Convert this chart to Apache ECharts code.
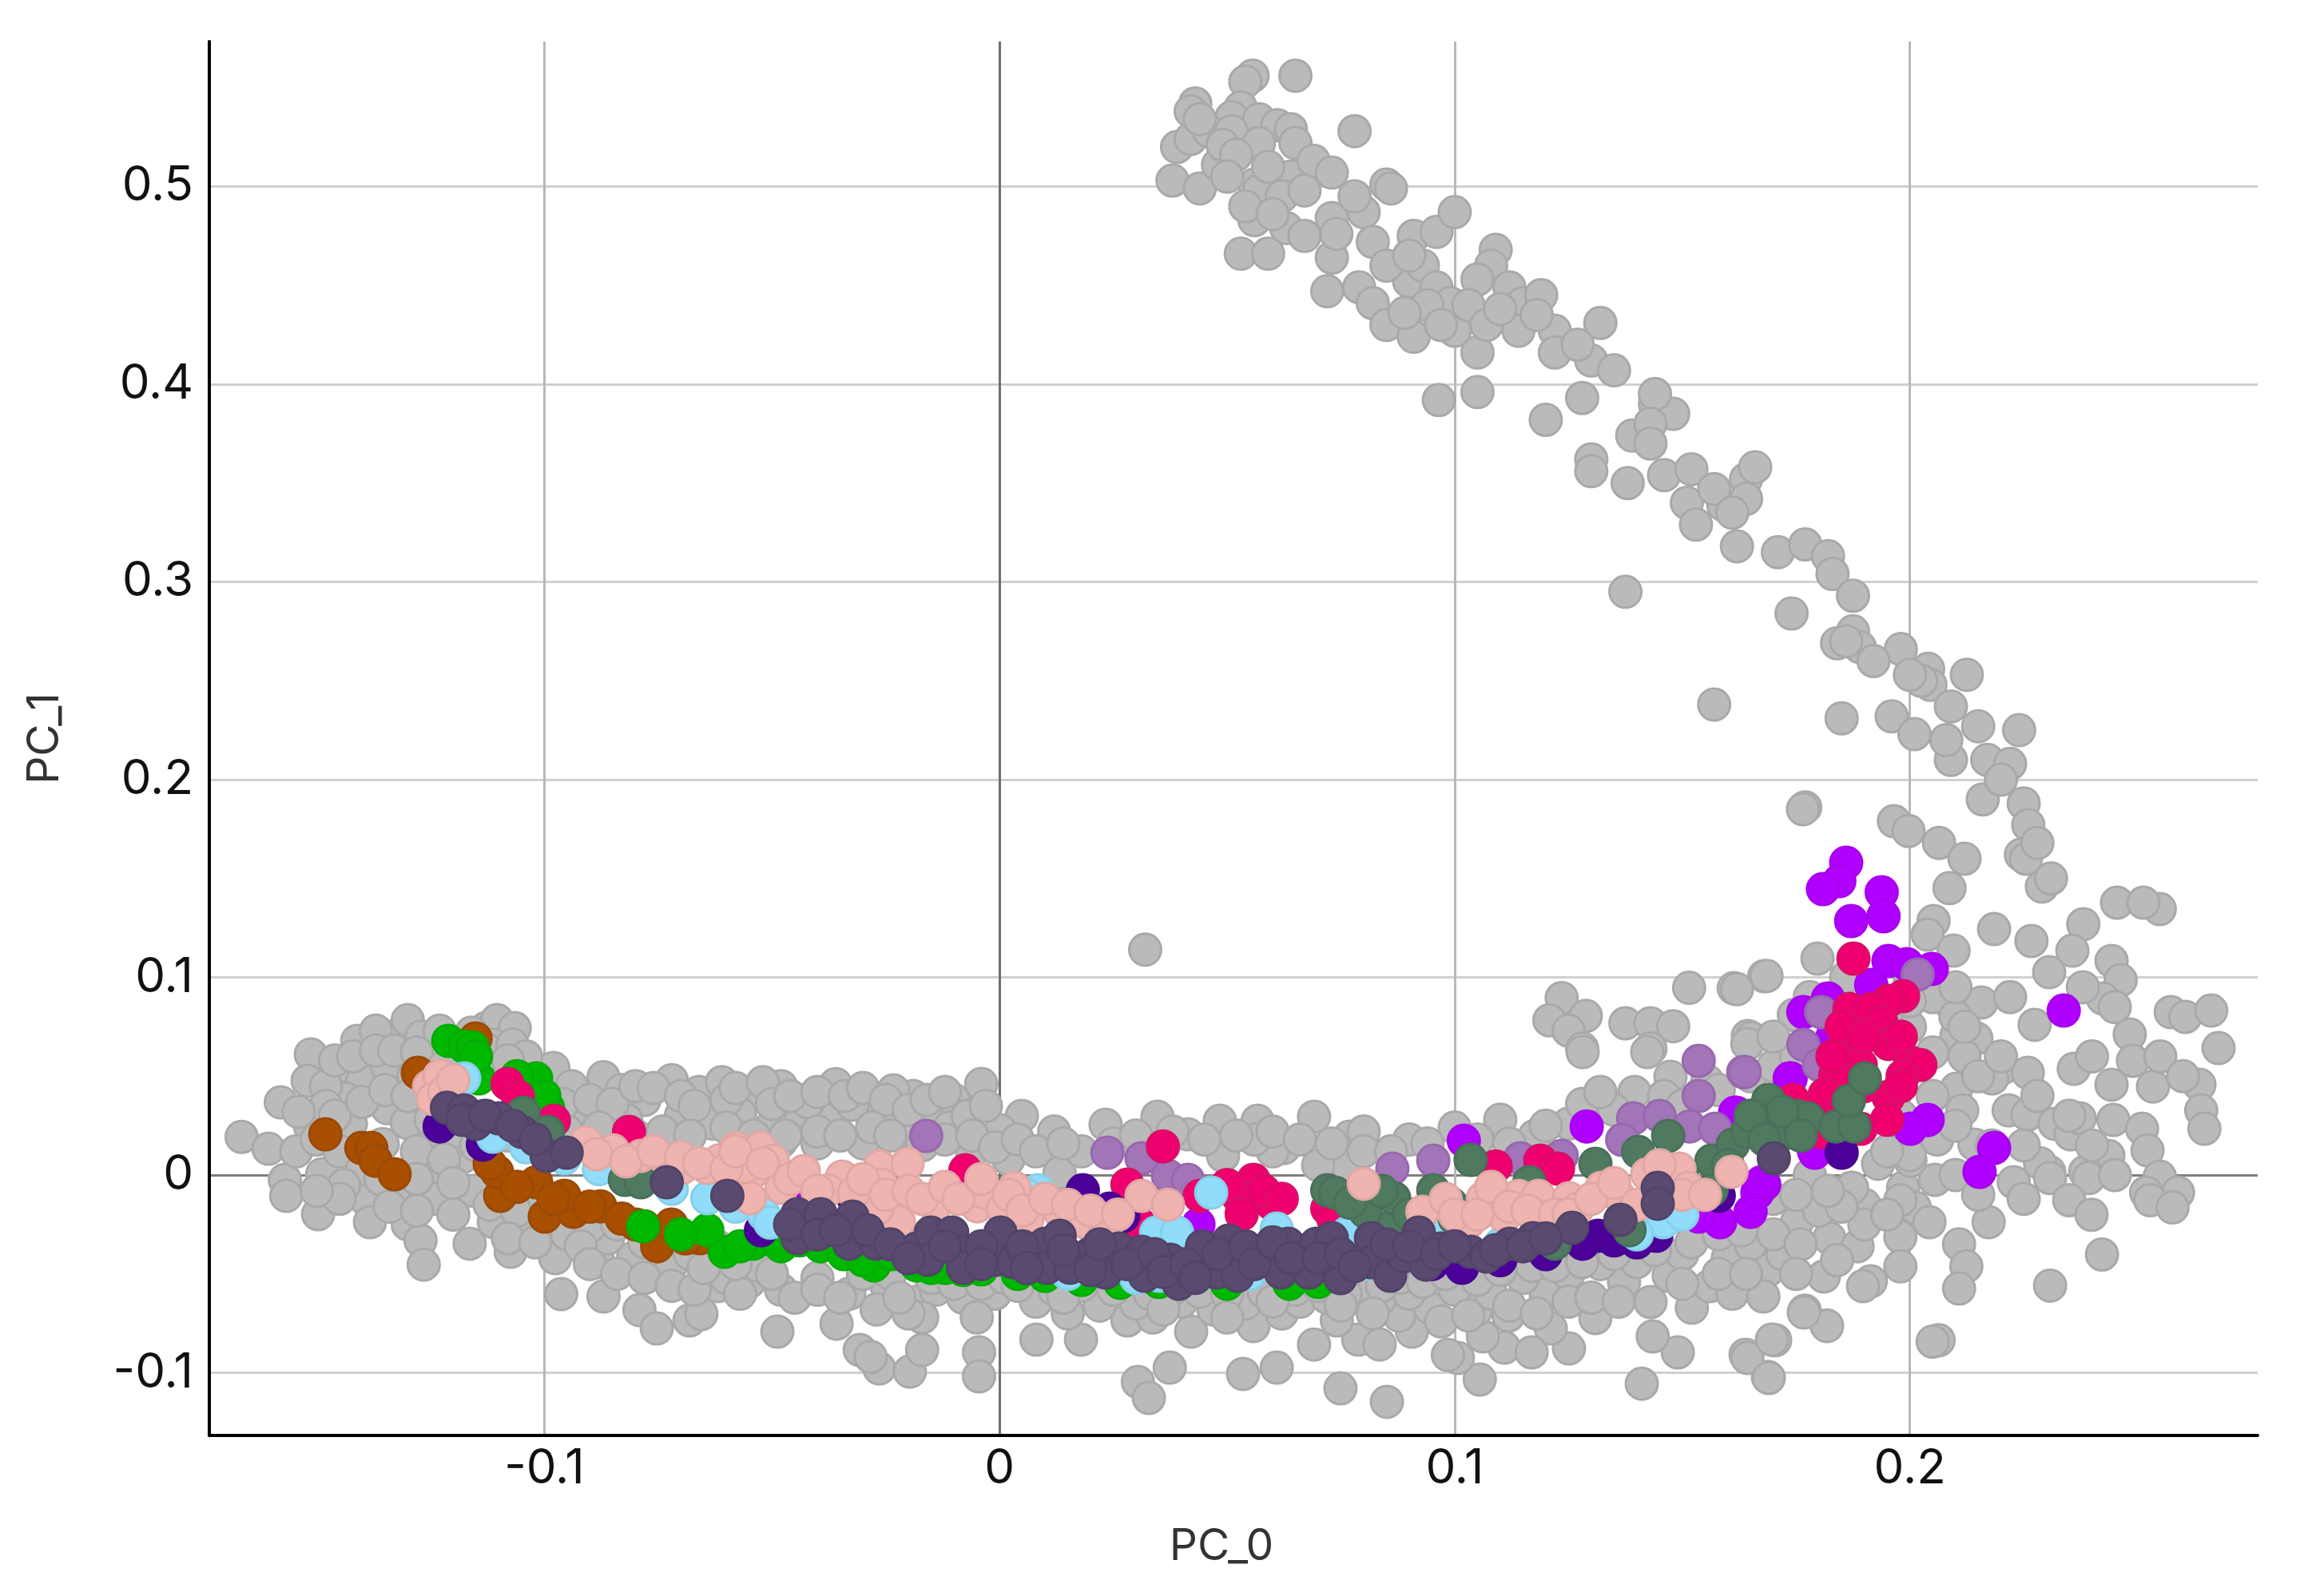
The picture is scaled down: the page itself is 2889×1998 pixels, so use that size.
<!DOCTYPE html>
<html><head><meta charset="utf-8">
<style>html,body{margin:0;padding:0;background:#fff}#c{width:2889px;height:1998px}</style>
<script src="https://cdn.jsdelivr.net/npm/echarts@6/dist/echarts.min.js"></script>
</head><body><div id="c"></div><script>
const xTicks=[-0.1,0,0.1,0.2];
const yTicks=[-0.1,0,0.1,0.2,0.3,0.4,0.5];
const grayArc=[[.0556,.556],[.054,.553],[.065,.556],[.043,.542],[.042,.538],[.053,.54],[.051,.535],[.057,.534],[.061,.531],[.064,.529],[.039,.52],[.042,.524],[.046,.528],[.051,.528],[.057,.522],[.065,.522],[.038,.503],[.044,.499],[.048,.511],[.056,.501],[.057,.498],[.064,.505],[.069,.513],[.073,.507],[.078,.528],[.056,.483],[.063,.479],[.067,.475],[.073,.484],[.053,.466],[.059,.466],[.073,.464],[.072,.447],[.08,.487],[.085,.501],[.086,.499],[.082,.472],[.079,.449],[.082,.441],[.09,.452],[.091,.475],[.096,.477],[.1,.487],[.093,.46],[.096,.449],[.085,.43],[.091,.424],[.099,.441],[.1,.427],[.105,.416],[.0965,.392],[.105,.396],[.109,.468],[.108,.46],[.105,.453],[.112,.449],[.115,.441],[.119,.445],[.114,.427],[.122,.427],[.122,.416],[.132,.431],[.13,.412],[.135,.407],[.128,.393],[.12,.382],[.144,.39],[.148,.385],[.144,.395],[.139,.374],[.143,.38],[.13,.362],[.13,.356],[.138,.35],[.146,.354],[.152,.357],[.151,.34],[.153,.329],[.159,.339],[.164,.352],[.164,.342],[.166,.358],[.162,.318],[.171,.315],[.177,.319],[.182,.313],[.183,.304],[.174,.284],[.1375,.295],[.1875,.293],[.1875,.275],[.184,.269],[.189,.267],[.198,.266],[.204,.256],[.2125,.253],[.2045,.248],[.2025,.25],[.185,.231],[.157,.238],[.196,.232],[.201,.223],[.209,.237],[.215,.227],[.224,.225],[.209,.21],[.217,.21],[.222,.208],[.216,.19],[.225,.188],[.226,.177],[.177,.186],[.1965,.179],[.1997,.174],[.2064,.168],[.2244,.162],[.2255,.16],[.229,.1459],[.2087,.1451],[.2455,.1378],[.2549,.1345],[.2513,.1378],[.2185,.1244],[.2267,.1184],[.2381,.1269],[.2357,.1135],[.2306,.1026],[.2443,.1083],[.2463,.0986],[.2424,.0893],[.1765,.185],[.032,.114],[.2052,.1285],[.2039,.1216],[.2096,.1135]];
const grayArcFill=[[.044,.534],[.049,.521],[.052,.516],[.059,.51],[.05,.505],[.062,.495],[.054,.49],[.067,.498],[.06,.486],[.078,.495],[.074,.476],[.085,.46],[.09,.465],[.094,.44],[.089,.436],[.097,.43],[.103,.44],[.107,.43],[.11,.438],[.118,.435],[.127,.42],[.143,.37],[.157,.347],[.161,.335],[.186,.27],[.192,.26],[.2,.253],[.208,.22],[.22,.2],[.228,.168],[.231,.15],[.212,.16]];
const grayRight=[[.1797,.1095],[.168,.1006],[.1613,.0945],[.2087,.0873],[.2157,.0873],[.2274,.076],[.2102,.0703],[.2146,.0691],[.1644,.0703],[.2483,.0711],[.2573,.0824],[.2605,.08],[.2662,.0832],[.2678,.0642],[.249,.0578],[.2204,.0541],[.2259,.0517],[.2181,.0489],[.236,.0537],[.2443,.0457],[.2534,.0448],[.2636,.0457],[.264,.0327],[.2647,.0234],[.2102,.0436],[.2115,.0327],[.2217,.0327],[.2258,.0305],[.2318,.0259],[.2353,.0206],[.2373,.0287],[.2447,.0279],[.251,.0234],[.2436,.0097],[.2522,.0125],[.2385,.0016],[.2306,.0016],[.2228,-.0036],[.2142,.0154],[.2549,-.0008],[.2589,-.0089],[.2519,-.0089],[.2055,-.0024],[.1985,-.0065],[.193,.0057],[.2001,.0073],[.1871,-.0065],[.2286,.006],[.2308,-.0015],[.2393,-.0015],[.235,-.0127],[.2399,-.0201],[.2528,-.0127],[.2577,-.0164],[.2422,-.0402],[.2308,-.0559],[.2173,-.0238],[.2063,-.0835],[.205,-.0842],[.2108,-.035],[.2124,-.0462],[.2108,-.0574],[.2011,-.0164],[.1979,-.0127],[.1914,-.0537],[.1817,-.076],[.1769,-.0686],[.1688,-.1021],[.1639,-.0909],[.1704,-.0835],[.1979,-.0313],[.1979,-.0462],[.2043,-.0238],[.1235,.0895],[.1208,.0783],[.1288,.0805],[.125,.073],[.128,.064],[.1375,.0768],[.143,.0768],[.148,.0753],[.1515,.0947],[.162,.094],[.1685,.1007],[.1652,.0693],[.143,.064],[.1555,.0475],[.1745,.081],[.2,.075],[.205,.062],[.195,.082],[.212,.06],[.2,.01],[.206,.018],[.19,-.015]];
const grayLeft=[[-.1665,.0193],[-.1606,.0133],[-.1579,.0368],[-.1513,.061],[-.152,.0477],[-.157,-.0024],[-.1488,.0004],[-.1567,-.0105],[-.1497,-.0198],[-.1395,-.0117],[-.1383,-.0238],[-.13,-.025],[-.1272,-.0331],[-.1265,-.0453],[-.1164,-.0347],[-.1074,-.0388],[-.0976,-.042],[-.0963,-.0602],[-.087,-.0614],[-.0791,-.0683],[-.0753,-.0776],[-.0681,-.0735],[-.0655,-.0703],[-.062,-.0562],[-.0881,-.044],[-.0805,-.042],[-.072,-.045],[-.1316,.0719],[-.1411,.0679],[-.137,.073],[-.13,.0784],[-.1128,.0743],[-.1104,.0784],[-.1065,.0743],[-.1115,.066],[-.098,.0541],[-.1074,.0557],[-.1455,.0545],[-.14,.0478],[-.1345,.0548],[-.1288,.05],[-.1437,.0387],[-.1345,.0338],[-.1302,.0265],[-.1425,.026],[-.1515,.025],[-.1545,.012],[-.1355,.0157],[-.1245,.016],[-.118,.009],[-.1232,.0003],[-.1325,-.006],[-.1236,-.012],[-.1155,-.008],[-.1111,-.0238],[-.103,-.026],[-.095,-.03],[-.086,-.032],[-.078,-.034],[-.1,.039],[-.094,.045],[-.087,.0495],[-.083,.043],[-.078,.038],[-.072,.048],[-.066,.042],[-.061,.047],[-.055,.04],[-.048,.045],[-.043,.038],[-.036,.046],[-.1,.025],[-.09,.032],[-.082,.028],[-.07,.03],[-.063,.026],[-.057,.031],[-.05,.025],[-.044,.026],[-.037,.028],[-.03,.038],[-.026,.03],[-.019,.04],[-.014,.032],[-.01,.038],[-.0233,.0428],[-.0421,.0368],[-.0323,.0356],[-.004,.0461],[.0049,.0299],[.0002,.0226],[-.02,.022],[-.011,.024],[-.03,.016],[-.04,.016],[-.048,.017],[-.006,.012],[.002,.008],[-.0307,-.0885],[-.0264,-.0978],[-.0283,-.092],[-.0197,-.0994],[-.017,-.0885],[-.0045,-.0897],[-.0045,-.1018],[-.0488,-.0792],[-.0358,-.0752],[-.055,-.054],[-.048,-.058],[-.04,-.052],[-.033,-.06],[-.025,-.055],[-.027,-.068],[-.018,-.064],[-.014,-.058],[-.008,-.062],[-.001,-.06],[-.017,-.072],[-.02,-.07],[-.005,-.072],[-.062,-.045],[-.053,-.046]];
const grayLeftFill=[[-.148,.045],[-.146,.058],[-.142,.06],[-.137,.063],[-.133,.063],[-.127,.07],[-.123,.073],[-.128,.062],[-.12,.064],[-.116,.072],[-.113,.064],[-.107,.066],[-.104,.06],[-.108,.058],[-.116,.056],[-.122,.055],[-.148,.035],[-.154,.032],[-.15,.018],[-.145,.012],[-.146,.03],[-.14,.037],[-.135,.043],[-.13,.04],[-.125,.028],[-.12,.022],[-.115,.015],[-.108,.02],[-.102,.014],[-.128,.012],[-.122,.008],[-.14,.003],[-.144,-.005],[-.136,-.002],[-.128,-.002],[-.12,-.004],[-.112,-.015],[-.106,-.018],[-.1,-.012],[-.134,-.016],[-.128,-.018],[-.12,-.02],[-.108,-.032],[-.102,-.034],[-.09,-.026],[-.092,-.036],[-.084,-.025],[-.075,-.03],[-.068,-.04],[-.062,-.036],[-.145,-.012],[-.15,-.008],[-.096,.036],[-.09,.038],[-.085,.036],[-.08,.045],[-.076,.044],[-.07,.04],[-.067,.035],[-.06,.038],[-.058,.044],[-.052,.047],[-.05,.036],[-.046,.04],[-.04,.042],[-.034,.04],[-.03,.044],[-.025,.038],[-.02,.033],[-.016,.038],[-.012,.042],[-.007,.03],[-.003,.035],[-.095,.022],[-.088,.024],[-.08,.02],[-.074,.022],[-.068,.02],[-.06,.024],[-.054,.02],[-.047,.02],[-.04,.022],[-.035,.02],[-.028,.024],[-.024,.02],[-.017,.015],[-.012,.018],[-.006,.02],[-.001,.014],[.004,.018],[-.09,-.045],[-.084,-.05],[-.078,-.052],[-.072,-.056],[-.067,-.058],[-.06,-.052],[-.057,-.06],[-.05,-.05],[-.045,-.062],[-.04,-.058],[-.035,-.062],[-.03,-.05],[-.024,-.05],[-.022,-.062],[-.015,-.052],[-.01,-.055],[-.004,-.055],[.001,-.052],[-.065,-.047],[-.058,-.045]];
const grayMid=[[.0081,-.0832],[.0179,-.0832],[.0374,-.0974],[.0304,-.1046],[.0328,-.1127],[.0535,-.1006],[.0609,-.0974],[.0421,-.0792],[.0281,-.0735],[.0337,-.072],[.0558,-.0764],[.0691,-.0857],[.0233,.0255],[.0347,.0295],[.0414,.0206],[.0484,.0275],[.0567,.0275],[.0691,.0295],[.0132,.0012],[.0491,.0097],[.0625,.0137],[.0749,-.1079],[.0851,-.1147],[.1055,-.1034],[.1007,-.0925],[.0985,-.091],[.1411,-.1055],[.1643,-.0925],[.1697,-.0832],[.169,-.1026],[.149,-.0897],[.1435,-.0816],[.1818,-.0764],[.1767,-.0695],[.1897,-.0562],[.0788,-.0832],[.0835,-.0857],[.0906,-.0792],[.1109,-.0873],[.1251,-.0877],[.1309,-.0723],[.1211,-.0776],[.1062,-.0816],[.1169,-.0897],[.1521,-.0671],[.143,-.0642],[.156,-.0562],[.161,-.06],[.1372,-.0541],[.147,-.0509],[.1689,-.0481],[.1811,-.0513],[.1823,-.0319],[.1885,-.036],[.1752,-.0238],[.1873,-.0065],[.1678,-.0614],[.0878,-.0711],[.0945,-.0671],[.1047,-.0683],[.1118,-.0711],[.12,-.0602],[.0741,-.0735],[.0835,-.063],[.1176,.0198],[.0769,.0194],[.0761,.0057],[.1281,.0622],[.1423,.0622],[.1474,.0497],[.1395,.042],[.1643,.0663],[.008,-.064],[.015,-.07],[.022,-.066],[.03,-.065],[.04,-.064],[.047,-.068],[.054,-.065],[.062,-.07],[.066,-.064],[.072,-.062],[.08,-.058],[.09,-.06],[.1,-.058],[.108,-.06],[.115,-.052],[.125,-.05],[.132,-.045],[.14,-.044],[.15,-.04],[.16,-.042],[.165,-.035],[.172,-.04],[.18,-.018],[.17,-.012],[.178,.0],[.06,.012],[.07,.005],[.08,.022],[.09,.018],[.1,.024],[.11,.028],[.125,.026],[.135,.033],[.012,.022],[.018,.012],[.056,.018]];
const grayMidFill=[[.004,-.056],[.012,-.058],[.018,-.056],[.025,-.058],[.033,-.06],[.038,-.058],[.044,-.059],[.05,-.06],[.058,-.059],[.065,-.058],[.07,-.056],[.076,-.06],[.084,-.056],[.088,-.052],[.093,-.054],[.098,-.05],[.105,-.053],[.11,-.048],[.117,-.046],[.122,-.046],[.128,-.044],[.135,-.04],[.144,-.038],[.152,-.034],[.158,-.03],[.163,-.028],[.17,-.03],[.176,-.035],[.075,-.066],[.082,-.07],[.097,-.074],[.103,-.071],[.112,-.066],[.118,-.07],[.125,-.064],[.13,-.062],[.136,-.064],[.15,-.055],[.158,-.05],[.164,-.05],[.175,-.05],[.184,-.043],[.19,-.025],[.195,-.02],[.185,-.016],[.182,-.008],[.175,-.01],[.014,-.062],[.036,-.068],[.05,-.072],[.06,-.064],[.008,.012],[.014,.016],[.025,.016],[.03,.02],[.038,.022],[.045,.018],[.052,.02],[.06,.022],[.066,.018],[.073,.016],[.08,.012],[.086,.012],[.094,.016],[.105,.018],[.112,.016],[.12,.025],[.128,.036],[.132,.042],[.146,.04],[.15,.035],[.158,.043],[.165,.05],[.17,.055],[.175,.06],[.17,.07],[.178,.09],[.186,.1],[.2,.1],[.205,.09],[.21,.08],[.2,.088],[.21,.095],[.215,.05],[.205,.04],[.198,.03],[.21,.025],[.218,.015],[.225,.015],[.228,.04],[.235,.03],[.24,.015],[.245,.0],[.225,-.012],[.21,.0],[.215,-.01],[.195,.012],[.22,.06],[.212,.075],[.222,.09],[.238,.095],[.245,.085],[.255,.06],[.26,.05],[.24,.06]];
const brown=[[-.1481,.0206],[-.1402,.0137],[-.138,.0137],[-.1371,.0073],[-.1329,.0004],[-.1097,-.0105],[-.1104,.0016],[-.112,.0057],[-.1018,-.0036],[-.0999,-.021],[-.0936,-.0186],[-.0956,-.0105],[-.0877,-.0158],[-.0752,-.036],[-.0799,-.025],[-.0721,-.025],[-.0658,-.0319],[-.1278,.0517],[-.1151,.0691],[-.106,-.006],[-.098,-.012],[-.09,-.016],[-.083,-.022],[-.078,-.026],[-.069,-.032]];
const violet=[[.186,.158],[.1845,.1487],[.1809,.1446],[.1938,.143],[.1942,.1309],[.1871,.1285],[.1953,.1083],[.1993,.1067],[.2048,.1042],[.1915,.0962],[.1766,.0824],[.182,.0893],[.2338,.0832],[.1738,.0489],[.2039,.0279],[.2001,.0234],[.2185,.0137],[.2153,.0016],[.1616,.0315],[.1789,.0125],[.168,-.0048],[.102,.0174],[.129,.0246],[.1736,.0489],[.1618,.0315],[.1583,-.0238],[.165,-.0186],[.1665,-.0089],[.1674,-.0036],[.1536,-.021],[.1791,.0113],[.0437,-.025],[.183,.07],[.192,.075],[-.0425,-.004]];
const lightPurple=[[-.0161,.0198],[.0237,.0113],[.0312,.0085],[.037,-.0004],[.0414,-.0024],[.0863,.0032],[.0953,.0073],[.1144,.0085],[.1235,.0097],[.1392,.0287],[.145,.0299],[.1368,.0178],[.1536,.0578],[.1634,.0521],[.1536,.04],[.1516,.0246],[.1572,.0234],[.1766,.0659],[.1805,.0824],[.1637,.0521],[.2017,.1014],[.18,.0557]];
const green=[[-.1211,.0679],[-.1176,.065],[-.1158,.0645],[-.1018,.0489],[-.0992,.034],[-.1144,.0489],[-.0783,-.0259],[-.0604,-.0388],[-.0642,-.0279],[-.0541,-.0347],[-.0488,-.0343],[-.0393,-.036],[-.0342,-.04],[-.0276,-.0457],[-.0237,-.04],[-.0182,-.0457],[-.0119,-.047],[-.004,-.0477],[.01,-.051],[.0265,-.0545],[.0637,-.055],[-.044,-.033],[-.03,-.043],[-.015,-.047],[-.008,-.048],[.004,-.05],[.018,-.053],[.035,-.054],[.05,-.055],[.07,-.054],[-.07,-.03],[-.057,-.036],[-.048,-.036],[-.115,.06],[-.1,.04],[-.106,.05]];
const magenta=[[-.1081,.0461],[-.1058,.0396],[-.0979,.0275],[-.0814,.0218],[-.0075,.0024],[.0359,.0145],[.0281,-.0048],[.044,-.0105],[.0558,-.0024],[.0523,-.0105],[.0598,-.0145],[.0532,-.0198],[.0304,-.0238],[.072,-.017],[.109,.0044],[.1188,.0073],[.1227,.0032],[.0734,-.0226],[.1876,.1095],[.1985,.0905],[.1953,.0881],[.1867,.084],[.1915,.084],[.1937,.0772],[.1867,.0663],[.1953,.0663],[.2001,.057],[.2023,.0557],[.1892,.0557],[.1836,.0501],[.1953,.0396],[.1813,.0408],[.1743,.038],[.1892,.0234],[.1805,.0218],[.1984,.05],[.185,.075],[.19,.07],[.198,.07],[.183,.06],[.19,.045],[.186,.035],[.176,.028],[.198,.045],[.184,.028],[.195,.028],[.05,-.005],[.058,-.008],[.062,-.012]];
const indigo=[[.0183,-.0077],[.0242,-.017],[.0272,-.0206],[.1315,-.0307],[.1443,-.0307],[.1281,-.0347],[.185,.0113],[.158,-.0105],[.1016,-.0469],[-.123,.0246],[-.1135,.0154],[-.0524,-.0279],[.11,-.043],[.12,-.04],[.135,-.033],[.14,-.034],[.095,-.045],[-.0325,-.01],[-.021,-.008],[-.014,-.012]];
const lightBlue=[[-.1176,.0489],[-.1113,.0194],[-.104,.014],[-.0956,.0085],[-.088,.003],[-.0799,-.0024],[-.072,-.007],[-.0642,-.0117],[-.058,-.016],[-.0518,-.0198],[-.0504,-.024],[.0084,-.0077],[.0465,-.0089],[.0344,-.0291],[.039,-.0291],[.0609,-.0271],[.0351,-.0509],[.0226,-.0481],[.0061,-.046],[.0449,-.0481],[.1458,-.0238],[.0765,-.0291],[.0988,-.0279],[.015,-.05],[.03,-.052],[.042,-.052],[.055,-.05],[.08,-.045],[.09,-.04],[.11,-.035],[.14,-.03],[.15,-.02],[.006,-.01]];
const seaGreen=[[-.1046,.0315],[-.0992,.0218],[-.0823,-.0024],[-.0788,-.0036],[.072,-.0077],[.0737,-.0089],[.0804,-.0186],[.0867,-.025],[.0867,-.0117],[.0953,-.0077],[.0992,-.0145],[.1035,.0077],[.1164,-.0036],[.1309,.0057],[.1403,.0117],[.1469,.0198],[.1564,.0073],[.1564,-.0077],[.1611,.0154],[.1689,.038],[.1689,.0275],[.1643,.0218],[.1752,.0299],[.1776,.0287],[.172,.0206],[.1837,.0246],[.1878,.0246],[.1866,.0376],[.1901,.0489],[.1384,-.0279],[.122,-.0347],[.165,.03],[.172,.032],[.168,.018],[.176,.02],[.16,.005],[.15,.0],[.125,-.02],[.09,-.02],[.077,-.014],[.084,-.008],[.112,-.015],[.1,-.022]];
const pink=[[-.1253,.0449],[-.123,.0501],[-.1245,.0385],[-.0909,.0166],[-.0849,.0125],[-.0788,.0097],[-.0885,.0105],[-.0697,.0036],[-.0579,.0137],[-.0642,.0036],[-.0541,.0016],[-.0548,-.0117],[-.0525,.0137],[-.0733,.008],[-.0615,.0075],[-.056,.004],[-.0498,.0073],[-.0479,-.0065],[-.0346,-.0008],[-.0377,-.0077],[-.0263,.0044],[-.026,-.0048],[-.0202,.0057],[-.0221,-.0238],[-.0268,-.017],[-.0142,-.0158],[-.0049,-.0158],[-.0033,-.0089],[.0033,-.0065],[.0007,-.017],[.0061,-.0226],[.0132,-.0186],[.0186,-.0238],[.0233,-.0279],[.0312,-.0105],[.037,-.015],[.08,-.0044],[.0929,-.0186],[.1031,-.0238],[.1062,-.0117],[.1109,-.021],[.114,-.0105],[.1184,-.0105],[.1188,-.021],[.1251,-.0117],[.1322,-.0065],[.136,-.0105],[.1423,.0004],[.1494,.0032],[.1513,-.0065],[.1608,.0016],[.127,-.017],[-.082,.007],[-.076,.012],[-.07,.009],[-.066,.006],[-.06,.003],[-.058,.012],[-.052,.006],[-.046,-.002],[-.043,.002],[-.04,-.008],[-.032,-.009],[-.03,-.002],[-.025,-.01],[-.02,-.008],[-.017,-.012],[-.012,-.006],[-.009,-.012],[-.004,-.002],[.002,-.01],[.005,-.018],[.01,-.012],[.015,-.015],[.02,-.018],[.026,-.02],[.098,-.012],[.1,-.02],[.105,-.02],[.108,-.006],[.112,-.016],[.116,-.018],[.122,-.02],[.125,-.02],[.13,-.012],[.135,-.004],[.14,-.015],[.145,.005],[.15,-.01],[.155,-.01],[-.122,.042],[-.12,.048]];
const slate=[[-.1214,.034],[-.1176,.0327],[-.1151,.0259],[-.11,.0287],[-.1049,.0218],[-.0995,.0097],[-.0951,.0113],[-.0731,-.0036],[-.0598,-.0105],[-.0444,-.0198],[-.0444,-.0319],[-.0393,-.0198],[-.0323,-.021],[-.033,-.0347],[-.0272,-.0347],[-.0182,-.0372],[-.0151,-.0291],[-.0158,-.0428],[-.0104,-.0291],[-.008,-.0388],[-.008,-.0469],[.0002,-.0291],[-.0009,-.0428],[.003,-.044],[.01,-.0347],[.0132,-.0307],[.0104,-.0469],[.0198,-.04],[.0155,-.0469],[.0233,-.0493],[.0262,-.0372],[.0312,-.0388],[.0319,-.0509],[.0375,-.0428],[.0394,-.055],[.0445,-.036],[.0504,-.0331],[.0476,-.0493],[.0523,-.0509],[.0583,-.04],[.0618,-.0493],[.0634,-.0347],[.068,-.0493],[.0696,-.0347],[.073,-.0319],[.0749,-.0521],[.0816,-.0319],[.0816,-.044],[.0858,-.0509],[.0921,-.0291],[.0886,-.0412],[.0937,-.0453],[.0969,-.0372],[.1035,-.0388],[.1121,-.0347],[.1172,-.0319],[.1258,-.0267],[.1364,-.0226],[.1446,-.0065],[.1446,-.0145],[.1701,.0085],[.107,-.0412],[-.118,.028],[-.113,.03],[-.107,.025],[-.102,.018],[-.046,-.025],[-.04,-.03],[-.036,-.028],[-.029,-.028],[-.024,-.035],[-.02,-.042],[-.012,-.036],[-.004,-.036],[-.004,-.045],[.005,-.036],[.006,-.047],[.014,-.038],[.02,-.048],[.022,-.035],[.028,-.045],[.034,-.04],[.036,-.049],[.041,-.045],[.043,-.052],[.048,-.04],[.054,-.036],[.056,-.045],[.06,-.034],[.064,-.042],[.07,-.042],[.075,-.04],[.078,-.046],[.085,-.035],[.09,-.036],[.096,-.04],[.1,-.036],[.109,-.038],[.115,-.036],[.12,-.032]];
const gray=[...grayArc,...grayArcFill,...grayRight,...grayLeft,...grayLeftFill,...grayMid,...grayMidFill];
const layers=[
 ['gray',gray,'#bababa','#a9a9a9'],
 ['violet',violet,'#b000ff','#a800f0'],
 ['lightPurple',lightPurple,'#a274b8','#9868ae'],
 ['brown',brown,'#a84f00','#9c4a08'],
 ['green',green,'#00b800','#05ac05'],
 ['magenta',magenta,'#f0006e','#d80f68'],
 ['indigo',indigo,'#4b0099','#47058f'],
 ['lightBlue',lightBlue,'#90dcfa','#86cfe8'],
 ['seaGreen',seaGreen,'#4f7a60','#4a7059'],
 ['pink',pink,'#efb3b0','#e0a8a5'],
 ['slate',slate,'#5a4a70','#524468']
];
const font='Inter';
const chart=echarts.init(document.getElementById('c'),null,{renderer:'canvas'});
chart.setOption({
 animation:false,backgroundColor:'#fff',
 grid:{left:262,right:63,top:52,bottom:201,containLabel:false},
 xAxis:{type:'value',min:-0.1736,max:0.2764,name:'PC_0',nameLocation:'middle',nameGap:112,
  nameTextStyle:{fontFamily:font,fontSize:55,color:'#333',padding:[0,30,0,0]},
  axisLine:{show:true,onZero:false,lineStyle:{color:'#000',width:4}},
  axisTick:{show:false,customValues:xTicks},
  axisLabel:{customValues:xTicks,margin:12,fontFamily:font,fontSize:60,color:'#111'},
  splitLine:{show:true,lineStyle:{color:['#b8b8b8','#707070','#b8b8b8','#b8b8b8'],width:3}}},
 yAxis:{type:'value',min:-0.1317,max:0.5733,name:'PC_1',nameLocation:'middle',nameGap:178,
  nameTextStyle:{fontFamily:font,fontSize:55,color:'#333'},
  axisLine:{show:true,onZero:false,lineStyle:{color:'#000',width:4}},
  axisTick:{show:false,customValues:yTicks},
  axisLabel:{customValues:yTicks,margin:20,fontFamily:font,fontSize:60,color:'#111'},
  splitLine:{show:true,lineStyle:{color:['#d0d0d0','#808080','#d0d0d0','#d0d0d0','#d0d0d0','#d0d0d0','#d0d0d0'],width:3}}},
 series:layers.map(l=>({name:l[0],type:'scatter',data:l[1],symbol:'circle',symbolSize:40,
   itemStyle:{color:l[2],borderColor:l[3],borderWidth:3,opacity:1},emphasis:{disabled:true},large:false}))
});
</script></body></html>
